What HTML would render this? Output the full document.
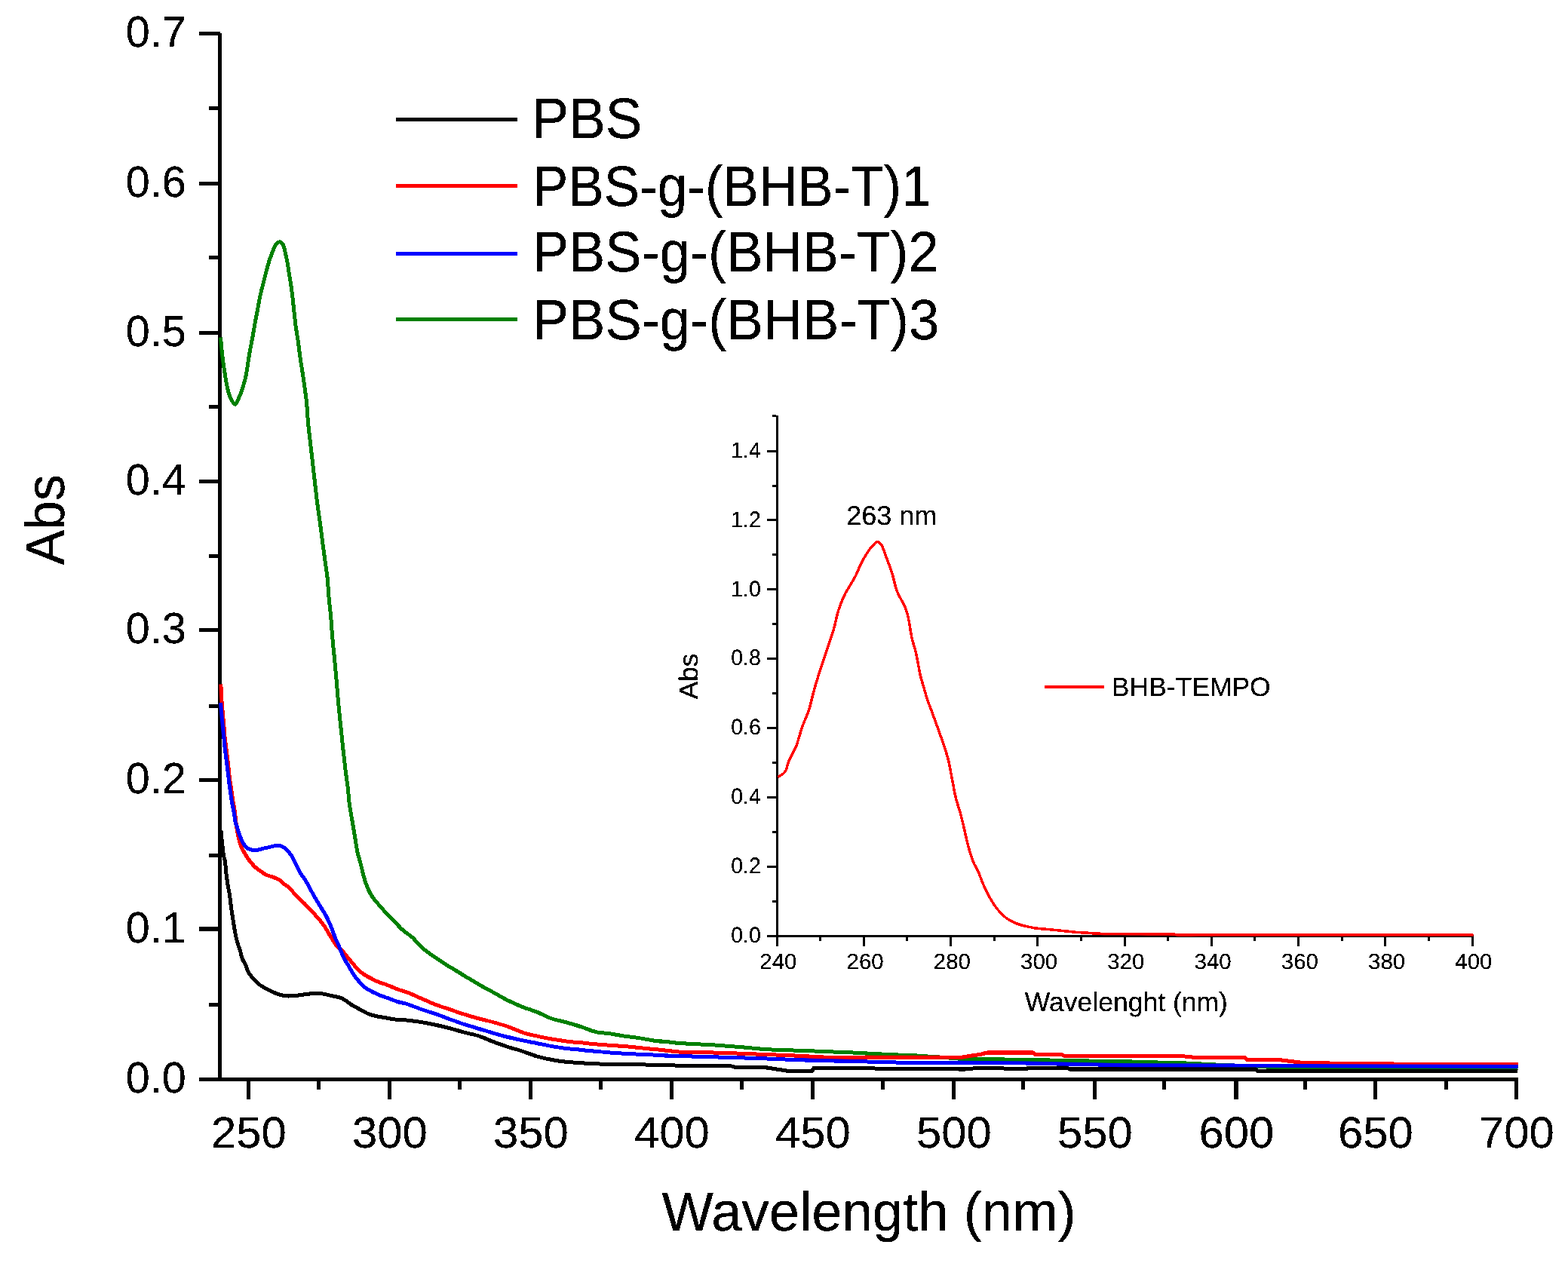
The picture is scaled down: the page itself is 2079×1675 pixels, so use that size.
<!DOCTYPE html>
<html><head><meta charset="utf-8"><title>UV-Vis spectra</title>
<style>html,body{margin:0;padding:0;background:#fff;}body{width:2079px;height:1675px;overflow:hidden;}svg{display:block;}text{font-family:"Liberation Sans", Arial, sans-serif;fill:#000;text-rendering:geometricPrecision;}</style></head><body>
<svg width="2079" height="1675" viewBox="0 0 2079 1675">
<rect width="2079" height="1675" fill="#fff"/>
<defs><filter id="al" filterUnits="userSpaceOnUse" x="0" y="0" width="2079" height="1675" color-interpolation-filters="sRGB"><feComponentTransfer><feFuncA type="discrete" tableValues="0 0 0 0 0 0 0 0 0 0 1 1 1 1 1 1 1 1 1 1"/></feComponentTransfer></filter><filter id="alt" filterUnits="userSpaceOnUse" x="0" y="0" width="2079" height="1675" color-interpolation-filters="sRGB"><feComponentTransfer><feFuncA type="discrete" tableValues="0 0 0 0 0 0 0 1 1 1 1 1 1 1 1 1 1 1 1 1"/></feComponentTransfer></filter></defs>
<g filter="url(#al)">
<path d="M289 44H294V1434H289Z M264 1429H2013V1434H264Z M264 42H292V47H264Z M264 241H289V246H264Z M264 439H289V444H264Z M264 636H289V641H264Z M264 833H289V838H264Z M264 1032H289V1037H264Z M264 1229H289V1235H264Z M264 1429H289V1434H264Z M277 1330H289V1335H277Z M277 1132H289V1137H277Z M277 934H289V939H277Z M277 735H289V740H277Z M277 537H289V542H277Z M277 339H289V344H277Z M277 141H289V146H277Z M327 1434H332V1458H327Z M514 1434H519V1458H514Z M701 1434H706V1458H701Z M888 1434H893V1458H888Z M1075 1434H1080V1458H1075Z M1262 1434H1267V1458H1262Z M1449 1434H1454V1458H1449Z M1636 1434H1642V1458H1636Z M1821 1434H1826V1458H1821Z M2008 1434H2013V1458H2008Z M420 1434H425V1445H420Z M607 1434H612V1445H607Z M794 1434H799V1445H794Z M981 1434H986V1445H981Z M1168 1434H1173V1445H1168Z M1354 1434H1359V1445H1354Z M1541 1434H1546V1445H1541Z M1728 1434H1733V1445H1728Z M1915 1434H1920V1445H1915Z" fill="#000"/>
<path d="M292.60 447.50 C293.17 454.17 293.56 460.72 294.30 467.50 C295.07 474.55 296.13 481.84 297.20 489.00 C298.27 496.17 299.27 503.93 300.70 510.50 C301.94 516.18 302.98 521.67 305.00 526.20 C306.73 530.09 309.40 536.37 311.50 536.30 C313.70 536.23 316.05 528.93 317.90 524.80 C319.89 520.37 321.46 515.30 322.90 510.50 C324.32 505.77 325.53 501.00 326.50 496.20 C327.46 491.43 327.91 486.80 328.70 481.80 C329.56 476.34 330.46 470.52 331.50 464.70 C332.59 458.60 334.00 452.10 335.10 446.00 C336.15 440.18 336.95 434.72 338.00 428.90 C339.10 422.80 340.41 416.43 341.60 410.20 C342.78 403.99 343.77 397.66 345.10 391.60 C346.38 385.74 347.96 380.12 349.40 374.40 C350.83 368.69 352.20 362.74 353.70 357.30 C355.08 352.28 356.48 347.39 358.00 342.90 C359.37 338.85 360.77 335.00 362.30 331.50 C363.66 328.39 364.82 324.69 366.60 322.90 C367.86 321.63 369.52 320.54 370.90 320.70 C372.39 320.87 374.07 322.57 375.20 324.30 C376.74 326.65 377.20 330.74 378.10 334.30 C379.12 338.31 380.08 342.77 380.90 347.20 C381.76 351.86 382.31 356.60 383.10 361.60 C383.96 367.06 385.07 372.98 385.90 378.70 C386.73 384.42 387.41 389.94 388.10 395.90 C388.85 402.34 389.47 409.43 390.20 416.00 C390.90 422.32 391.55 428.41 392.40 434.60 C393.25 440.81 394.38 446.77 395.30 453.20 C396.29 460.10 397.11 467.79 398.10 474.70 C399.02 481.16 400.05 487.06 401.00 493.40 C401.98 499.95 402.98 506.73 403.90 513.40 C404.82 520.06 405.76 526.16 406.50 533.40 C407.38 541.96 407.74 552.34 408.60 561.50 C409.42 570.29 410.54 578.83 411.50 587.30 C412.44 595.52 413.36 603.38 414.30 611.60 C415.26 620.07 416.24 628.93 417.20 637.40 C418.14 645.62 419.02 653.85 420.00 661.70 C420.92 669.09 421.93 676.03 422.90 683.20 C423.87 690.37 424.85 697.53 425.80 704.70 C426.75 711.87 427.65 719.04 428.60 726.20 C429.55 733.34 430.53 740.46 431.50 747.60 C432.47 754.76 433.70 762.10 434.40 769.10 C435.07 775.75 435.10 781.48 435.70 788.60 C436.43 797.25 437.75 807.74 438.60 817.30 C439.45 826.84 439.97 836.36 440.80 845.90 C441.63 855.46 442.70 865.04 443.60 874.60 C444.50 884.14 445.37 893.67 446.20 903.20 C447.03 912.73 447.72 922.26 448.60 931.80 C449.48 941.36 450.53 950.94 451.50 960.50 C452.47 970.04 453.51 980.85 454.40 989.10 C455.08 995.40 455.67 1000.20 456.30 1005.75 C456.93 1011.30 457.46 1016.44 458.20 1022.40 C459.06 1029.32 460.33 1037.33 461.20 1044.80 C462.07 1052.26 462.40 1059.75 463.40 1067.20 C464.40 1074.68 465.95 1082.14 467.20 1089.60 C468.45 1097.04 469.73 1104.86 470.90 1111.90 C471.95 1118.22 472.62 1124.07 473.90 1129.90 C475.14 1135.53 476.94 1140.70 478.40 1146.30 C479.92 1152.13 481.10 1158.55 482.80 1164.20 C484.37 1169.44 486.00 1174.50 488.10 1179.10 C490.05 1183.38 492.21 1187.27 494.80 1191.00 C497.40 1194.74 500.59 1197.91 503.70 1201.50 C507.04 1205.36 510.65 1209.61 514.20 1213.40 C517.62 1217.06 521.12 1220.42 524.60 1223.90 C528.08 1227.38 531.38 1231.07 535.10 1234.30 C538.84 1237.54 543.21 1239.86 547.00 1243.30 C551.04 1246.97 553.96 1251.69 558.50 1255.80 C563.90 1260.68 571.21 1265.67 577.70 1270.20 C584.05 1274.63 590.54 1278.66 597.00 1282.70 C603.38 1286.69 609.80 1290.45 616.20 1294.30 C622.60 1298.15 628.96 1302.10 635.40 1305.80 C641.79 1309.47 648.28 1312.86 654.70 1316.40 C661.11 1319.93 667.42 1323.78 673.90 1327.00 C680.26 1330.16 686.72 1333.01 693.20 1335.60 C699.56 1338.14 706.05 1339.86 712.40 1342.40 C718.85 1344.98 725.09 1348.75 731.60 1351.00 C737.93 1353.19 744.50 1354.04 750.90 1355.80 C757.33 1357.57 763.72 1359.51 770.10 1361.60 C776.55 1363.71 782.89 1366.87 789.40 1368.40 C795.73 1369.89 802.21 1369.85 808.60 1370.80 C815.01 1371.75 821.38 1373.13 827.80 1374.10 C834.22 1375.07 840.68 1375.63 847.10 1376.60 C853.52 1377.57 859.88 1379.03 866.30 1379.90 C872.71 1380.77 879.64 1381.15 885.60 1381.80 C890.75 1382.36 895.20 1382.93 900.00 1383.50 L948.10 1386.00 L986.60 1388.90 L1015.40 1391.70 L1073.20 1393.70 L1130.90 1396.00 L1179.00 1398.50 L1215.50 1400.00 L1280.00 1404.60 L1357.00 1405.20 L1414.70 1406.60 L1501.30 1408.10 L1568.60 1409.80 L1640.00 1413.50 L1720.50 1416.30 L2012.50 1416.60" stroke="#008000" stroke-width="5.0" fill="none" stroke-linejoin="round"/>
<path d="M292.90 907.50 C293.13 913.33 293.23 919.01 293.60 925.00 C293.99 931.33 294.65 938.18 295.20 944.50 C295.72 950.49 296.29 956.12 296.80 962.00 C297.32 967.96 297.68 974.28 298.30 980.00 C298.87 985.24 299.65 989.77 300.30 995.00 C301.02 1000.72 301.71 1006.92 302.40 1013.00 C303.11 1019.25 303.69 1025.76 304.50 1032.00 C305.29 1038.09 306.37 1044.27 307.20 1050.00 C307.96 1055.23 308.54 1060.40 309.30 1065.00 C309.95 1068.96 310.85 1072.24 311.40 1076.00 C311.97 1079.90 312.05 1083.50 312.60 1088.00 C313.31 1093.83 314.41 1102.67 315.50 1108.00 C316.24 1111.62 316.99 1114.07 317.90 1117.00 C318.79 1119.87 319.67 1122.77 320.90 1125.40 C322.09 1127.93 323.75 1130.23 325.10 1132.50 C326.34 1134.59 327.35 1136.54 328.70 1138.50 C330.11 1140.54 331.79 1142.58 333.40 1144.50 C334.96 1146.37 336.34 1148.20 338.20 1149.90 C340.27 1151.79 342.99 1153.50 345.40 1155.20 C347.76 1156.86 350.04 1158.79 352.50 1160.00 C354.82 1161.14 357.26 1161.53 359.70 1162.40 C362.26 1163.32 365.29 1164.34 367.50 1165.40 C369.24 1166.23 370.50 1166.91 372.00 1168.00 C373.74 1169.27 375.34 1171.21 377.20 1172.70 C379.13 1174.25 381.43 1175.32 383.40 1177.10 C385.62 1179.10 387.49 1181.94 389.70 1184.30 C391.98 1186.74 394.51 1189.11 396.90 1191.50 C399.27 1193.87 401.63 1196.23 404.00 1198.60 C406.39 1200.99 408.84 1203.30 411.20 1205.80 C413.61 1208.36 416.01 1211.20 418.30 1213.80 C420.47 1216.26 422.62 1218.56 424.60 1221.00 C426.52 1223.36 428.26 1225.63 430.00 1228.20 C431.87 1230.97 433.57 1234.09 435.40 1237.10 C437.30 1240.22 439.41 1243.74 441.20 1246.60 C442.70 1248.98 443.55 1250.87 445.40 1253.10 C447.81 1256.00 452.11 1259.06 454.90 1262.10 C457.41 1264.84 459.28 1267.69 461.50 1270.40 C463.68 1273.06 465.81 1275.51 468.10 1278.20 C470.56 1281.10 472.96 1284.59 475.80 1287.20 C478.55 1289.73 481.74 1291.78 484.80 1293.70 C487.72 1295.53 490.70 1296.99 493.70 1298.50 C496.67 1299.99 499.67 1301.49 502.70 1302.70 C505.64 1303.88 508.64 1304.61 511.60 1305.70 C514.61 1306.81 517.60 1308.12 520.60 1309.30 C523.60 1310.48 526.53 1311.73 529.60 1312.80 C532.73 1313.90 535.49 1314.43 539.20 1315.80 C544.56 1317.79 552.08 1321.33 558.50 1324.10 C564.91 1326.86 571.24 1329.92 577.70 1332.40 C584.07 1334.85 590.57 1336.75 597.00 1338.90 C603.41 1341.05 609.78 1343.28 616.20 1345.30 C622.58 1347.31 628.97 1349.25 635.40 1351.00 C641.81 1352.75 648.30 1354.04 654.70 1355.80 C661.13 1357.57 667.54 1359.38 673.90 1361.60 C680.37 1363.86 686.70 1367.20 693.20 1369.30 C699.54 1371.35 705.98 1372.65 712.40 1374.10 C718.78 1375.55 725.18 1376.87 731.60 1378.00 C738.01 1379.13 744.46 1380.10 750.90 1380.90 C757.30 1381.70 763.69 1382.17 770.10 1382.80 C776.52 1383.43 782.97 1384.13 789.40 1384.70 C795.81 1385.27 802.20 1385.72 808.60 1386.20 C815.00 1386.68 821.40 1387.05 827.80 1387.60 C834.23 1388.15 840.68 1388.87 847.10 1389.50 C853.51 1390.13 859.89 1390.75 866.30 1391.40 C872.73 1392.05 879.64 1392.76 885.60 1393.40 C890.75 1393.95 895.20 1394.47 900.00 1395.00 L957.70 1396.20 L1015.40 1398.50 L1053.90 1400.00 L1092.40 1401.90 L1188.60 1402.30 L1275.20 1402.30 L1285.00 1400.50 L1299.20 1398.50 L1308.90 1396.00 L1370.40 1396.00 L1372.40 1398.50 L1407.00 1398.50 L1410.80 1400.20 L1568.60 1400.80 L1587.80 1402.70 L1651.30 1402.70 L1653.30 1405.20 L1695.60 1405.60 L1713.40 1407.70 L1727.60 1409.50 L1816.60 1410.60 L1862.90 1411.30 L2012.50 1411.30" stroke="#f00" stroke-width="5.0" fill="none" stroke-linejoin="round"/>
<path d="M292.50 932.00 C293.17 939.67 293.81 947.60 294.50 955.00 C295.15 961.90 295.83 968.33 296.50 975.00 C297.17 981.67 297.79 988.71 298.50 995.00 C299.13 1000.63 299.83 1005.59 300.50 1011.00 C301.19 1016.58 301.90 1022.33 302.60 1028.00 C303.30 1033.67 303.91 1039.26 304.70 1045.00 C305.51 1050.92 306.47 1057.55 307.40 1063.00 C308.18 1067.55 309.13 1071.73 309.80 1075.50 C310.35 1078.60 310.77 1081.30 311.20 1084.00 C311.59 1086.45 311.75 1088.81 312.30 1091.00 C312.81 1093.02 313.65 1094.68 314.30 1096.70 C315.02 1098.95 315.58 1101.48 316.40 1103.90 C317.26 1106.44 318.34 1109.09 319.40 1111.60 C320.44 1114.06 321.39 1116.64 322.70 1118.80 C323.92 1120.81 325.19 1122.84 326.90 1124.20 C328.57 1125.52 330.78 1126.35 332.80 1126.90 C334.75 1127.43 336.61 1127.61 338.80 1127.50 C341.51 1127.37 344.81 1126.35 347.80 1125.70 C350.78 1125.05 353.51 1124.30 356.70 1123.60 C360.40 1122.79 365.08 1120.92 368.70 1121.20 C371.81 1121.44 374.74 1122.72 377.20 1124.30 C379.63 1125.86 381.50 1128.28 383.40 1130.60 C385.38 1133.03 387.19 1135.72 388.80 1138.60 C390.51 1141.66 391.68 1145.24 393.30 1148.50 C394.94 1151.80 396.66 1155.16 398.60 1158.30 C400.53 1161.42 402.96 1164.18 404.90 1167.30 C406.86 1170.45 408.50 1173.82 410.30 1177.10 C412.10 1180.39 413.88 1183.80 415.70 1187.00 C417.45 1190.06 419.22 1192.93 421.00 1195.90 C422.79 1198.89 424.60 1201.91 426.40 1204.90 C428.20 1207.88 430.15 1210.79 431.80 1213.80 C433.41 1216.76 434.77 1219.65 436.20 1222.80 C437.74 1226.19 439.31 1229.93 440.70 1233.50 C442.07 1237.00 443.19 1240.92 444.50 1244.00 C445.57 1246.52 446.69 1248.21 447.80 1250.70 C449.15 1253.72 450.51 1257.51 451.90 1260.90 C453.28 1264.28 454.52 1267.91 456.10 1271.00 C457.55 1273.83 459.32 1276.14 460.90 1278.80 C462.52 1281.54 464.02 1284.43 465.70 1287.20 C467.39 1290.00 469.09 1292.89 471.00 1295.50 C472.86 1298.05 474.90 1300.40 477.00 1302.70 C479.10 1305.00 481.19 1307.41 483.60 1309.30 C485.97 1311.16 488.65 1312.53 491.30 1314.00 C494.01 1315.50 496.82 1316.91 499.70 1318.20 C502.62 1319.51 505.69 1320.69 508.70 1321.80 C511.66 1322.89 514.64 1323.71 517.60 1324.80 C520.61 1325.91 523.30 1327.37 526.60 1328.40 C530.41 1329.59 534.60 1329.92 539.20 1331.30 C545.00 1333.04 552.05 1336.26 558.50 1338.50 C564.88 1340.72 571.32 1342.46 577.70 1344.70 C584.15 1346.96 590.56 1349.66 597.00 1352.00 C603.39 1354.32 609.78 1356.61 616.20 1358.70 C622.58 1360.78 628.99 1362.57 635.40 1364.50 C641.82 1366.44 648.26 1368.46 654.70 1370.30 C661.10 1372.13 667.48 1373.90 673.90 1375.50 C680.31 1377.10 686.77 1378.53 693.20 1379.90 C699.60 1381.26 706.00 1382.42 712.40 1383.70 C718.80 1384.98 725.18 1386.47 731.60 1387.60 C738.01 1388.73 744.46 1389.70 750.90 1390.50 C757.30 1391.30 763.69 1391.77 770.10 1392.40 C776.52 1393.03 782.97 1393.72 789.40 1394.30 C795.81 1394.88 802.20 1395.42 808.60 1395.90 C815.00 1396.38 821.39 1396.82 827.80 1397.20 C834.22 1397.58 840.67 1397.88 847.10 1398.20 C853.51 1398.52 859.89 1398.78 866.30 1399.10 C872.73 1399.42 879.64 1399.88 885.60 1400.10 C890.75 1400.29 895.20 1400.30 900.00 1400.40 L996.20 1403.30 L1073.20 1406.20 L1150.10 1408.10 L1188.60 1409.10 L1300.00 1409.40 L1360.80 1410.00 L1491.60 1412.70 L1680.00 1413.30 L2012.50 1414.50" stroke="#00f" stroke-width="5.0" fill="none" stroke-linejoin="round"/>
<path d="M292.90 1101.00 C293.13 1104.00 293.30 1106.92 293.60 1110.00 C293.92 1113.25 294.43 1116.66 294.80 1120.00 C295.17 1123.33 295.37 1126.86 295.80 1130.00 C296.19 1132.82 296.68 1135.80 297.20 1138.00 C297.57 1139.58 298.07 1140.27 298.40 1142.00 C298.98 1145.01 299.10 1150.76 299.50 1154.60 C299.84 1157.85 300.18 1160.39 300.60 1163.60 C301.09 1167.29 301.66 1171.84 302.30 1175.50 C302.85 1178.66 303.52 1180.79 304.10 1184.30 C304.95 1189.44 305.62 1197.04 306.50 1203.40 C307.38 1209.77 308.46 1216.59 309.40 1222.50 C310.22 1227.64 310.85 1232.12 311.80 1236.90 C312.75 1241.69 313.87 1246.95 315.10 1251.20 C316.11 1254.72 317.45 1257.50 318.40 1260.70 C319.34 1263.87 319.64 1267.17 320.80 1270.30 C322.01 1273.54 324.16 1276.59 325.60 1279.80 C327.02 1282.96 327.69 1286.40 329.40 1289.40 C331.16 1292.48 333.69 1295.30 336.10 1298.00 C338.50 1300.69 340.96 1303.38 343.80 1305.60 C346.68 1307.85 350.08 1309.64 353.30 1311.40 C356.45 1313.13 359.67 1314.74 362.90 1316.10 C366.04 1317.42 369.18 1318.70 372.40 1319.50 C375.55 1320.29 378.49 1320.76 382.00 1320.90 C386.22 1321.07 391.31 1320.49 396.00 1320.00 C400.78 1319.50 405.33 1318.27 410.40 1317.90 C416.03 1317.49 423.00 1317.25 428.30 1317.90 C432.65 1318.43 436.34 1320.02 440.00 1320.80 C443.18 1321.48 446.07 1321.47 449.00 1322.40 C452.04 1323.37 455.00 1324.89 457.90 1326.60 C460.98 1328.42 463.84 1331.18 466.90 1333.10 C469.82 1334.93 472.43 1336.13 475.80 1337.90 C480.18 1340.21 485.59 1343.81 491.00 1345.70 C496.60 1347.66 503.64 1348.27 508.90 1349.30 C513.04 1350.11 515.78 1350.83 520.00 1351.40 C525.51 1352.15 532.80 1352.32 539.20 1353.00 C545.63 1353.68 552.09 1354.45 558.50 1355.50 C564.93 1356.55 571.31 1357.91 577.70 1359.30 C584.14 1360.70 590.59 1362.24 597.00 1363.90 C603.43 1365.57 609.79 1367.60 616.20 1369.30 C622.59 1371.00 629.06 1372.05 635.40 1374.10 C641.90 1376.20 648.25 1379.37 654.70 1381.80 C661.08 1384.20 667.46 1386.51 673.90 1388.60 C680.30 1390.68 686.80 1392.22 693.20 1394.30 C699.64 1396.39 705.95 1399.22 712.40 1401.10 C718.75 1402.94 725.17 1404.32 731.60 1405.50 C738.00 1406.68 744.46 1407.50 750.90 1408.20 C757.30 1408.90 763.69 1409.28 770.10 1409.70 C776.52 1410.12 782.97 1410.43 789.40 1410.70 C795.81 1410.97 802.20 1411.20 808.60 1411.30 C815.00 1411.40 821.39 1411.25 827.80 1411.30 C834.23 1411.35 840.68 1411.38 847.10 1411.60 C853.51 1411.82 859.89 1412.43 866.30 1412.60 C872.72 1412.77 879.64 1412.46 885.60 1412.60 C890.75 1412.73 895.20 1413.07 900.00 1413.30 L967.30 1413.30 L977.00 1415.80 L1015.40 1415.80 L1034.70 1418.70 L1044.30 1420.20 L1077.00 1420.20 L1078.90 1416.20 L1130.90 1416.20 L1188.60 1417.70 L1280.00 1418.10 L1295.00 1416.50 L1308.90 1416.20 L1360.80 1418.10 L1362.70 1416.20 L1414.70 1416.20 L1418.50 1418.10 L1664.80 1418.10 L1667.00 1420.20 L2012.50 1420.40" stroke="#000" stroke-width="5.0" fill="none" stroke-linejoin="round"/>
<path d="M525 158.4 H686" stroke="#000" stroke-width="5"/>
<path d="M525 246.5 H686" stroke="#f00" stroke-width="5"/>
<path d="M525 336.5 H686" stroke="#00f" stroke-width="5"/>
<path d="M525 423.4 H686" stroke="#008000" stroke-width="5"/>
<path d="M1029 551H1032V1255H1029Z M1017 1240H1954V1243H1017Z M1024 1194H1029V1197H1024Z M1017 1148H1029V1151H1017Z M1024 1102H1029V1105H1024Z M1017 1056H1029V1059H1017Z M1024 1010H1029V1013H1024Z M1017 964H1029V967H1017Z M1024 918H1029V921H1024Z M1017 872H1029V875H1017Z M1024 826H1029V829H1024Z M1017 780H1029V783H1017Z M1024 734H1029V737H1024Z M1017 688H1029V691H1017Z M1024 643H1029V646H1024Z M1017 597H1029V600H1017Z M1024 550H1029V553H1024Z M1086 1243H1089V1248H1086Z M1144 1243H1147V1255H1144Z M1201 1243H1204V1248H1201Z M1259 1243H1262V1255H1259Z M1317 1243H1320V1248H1317Z M1374 1243H1377V1255H1374Z M1432 1243H1435V1248H1432Z M1490 1243H1493V1255H1490Z M1547 1243H1550V1248H1547Z M1605 1243H1608V1255H1605Z M1662 1243H1665V1248H1662Z M1720 1243H1723V1255H1720Z M1778 1243H1781V1248H1778Z M1835 1243H1838V1255H1835Z M1893 1243H1896V1248H1893Z M1951 1243H1954V1255H1951Z" fill="#000"/>
<path d="M1031.50 1030.70 C1034.60 1028.40 1038.44 1027.00 1040.80 1023.80 C1043.54 1020.08 1044.11 1013.43 1046.00 1009.00 C1047.62 1005.20 1049.56 1001.99 1051.20 998.70 C1052.71 995.68 1053.99 993.76 1055.50 990.00 C1058.07 983.62 1060.95 971.68 1063.90 963.40 C1066.55 955.96 1070.04 949.03 1072.20 942.50 C1074.04 936.95 1075.00 932.03 1076.40 926.80 C1077.80 921.57 1078.90 917.03 1080.60 911.10 C1082.84 903.27 1086.07 892.84 1088.90 884.00 C1091.64 875.45 1094.52 867.27 1097.30 858.90 C1100.08 850.54 1103.16 842.20 1105.60 833.80 C1108.01 825.50 1109.34 816.68 1111.90 808.80 C1114.30 801.44 1117.49 793.59 1120.30 787.90 C1122.36 783.71 1124.29 781.19 1126.50 777.40 C1129.10 772.94 1132.42 767.74 1134.90 762.80 C1137.31 758.00 1138.81 753.00 1141.20 748.20 C1143.66 743.27 1146.80 737.73 1149.50 733.60 C1151.64 730.34 1153.49 727.75 1155.80 725.20 C1158.04 722.73 1160.81 718.66 1163.10 718.50 C1164.93 718.37 1166.74 720.14 1168.30 722.10 C1170.85 725.29 1172.41 731.97 1174.60 737.70 C1177.24 744.60 1180.46 752.98 1182.90 760.70 C1185.31 768.32 1186.38 776.35 1189.20 783.70 C1191.99 790.98 1197.16 798.44 1199.70 804.60 C1201.61 809.22 1202.51 812.00 1203.80 817.10 C1205.74 824.77 1207.13 837.75 1209.10 846.40 C1210.70 853.40 1212.88 859.20 1214.30 865.20 C1215.59 870.63 1216.37 875.63 1217.40 880.85 C1218.43 886.07 1219.26 891.40 1220.50 896.50 C1221.71 901.48 1223.30 906.23 1224.70 911.10 C1226.10 915.97 1227.15 920.32 1228.90 925.70 C1231.13 932.53 1234.52 941.03 1237.30 948.70 C1240.08 956.36 1243.03 964.46 1245.60 971.70 C1247.89 978.14 1250.04 983.96 1252.00 990.00 C1253.89 995.83 1255.60 1000.91 1257.20 1007.30 C1259.13 1015.05 1260.67 1024.63 1262.40 1033.30 C1264.13 1041.97 1265.67 1051.55 1267.60 1059.30 C1269.20 1065.69 1271.13 1070.55 1272.80 1076.60 C1274.61 1083.19 1276.30 1090.32 1278.00 1097.40 C1279.77 1104.74 1281.20 1112.44 1283.20 1119.90 C1285.22 1127.44 1287.48 1135.91 1290.10 1142.40 C1292.22 1147.66 1294.88 1151.29 1297.10 1156.20 C1299.54 1161.59 1301.45 1167.78 1304.00 1173.50 C1306.60 1179.34 1309.40 1185.36 1312.60 1190.90 C1315.74 1196.35 1319.29 1202.00 1323.00 1206.50 C1326.28 1210.48 1329.60 1213.90 1333.40 1216.80 C1337.11 1219.64 1341.22 1221.93 1345.50 1223.80 C1349.87 1225.71 1355.06 1226.96 1359.40 1228.10 C1363.15 1229.08 1365.57 1229.68 1370.00 1230.40 C1377.24 1231.57 1389.27 1232.50 1398.90 1233.50 C1408.51 1234.50 1419.21 1235.74 1427.70 1236.40 C1434.41 1236.92 1439.73 1237.07 1445.75 1237.40 C1451.77 1237.73 1457.39 1238.20 1463.80 1238.40 C1471.10 1238.63 1479.43 1238.53 1487.25 1238.60 C1495.07 1238.67 1502.88 1238.73 1510.70 1238.80 C1518.52 1238.87 1526.33 1238.93 1534.15 1239.00 C1541.97 1239.07 1553.55 1238.63 1557.60 1239.20 C1559.05 1239.40 1559.02 1239.80 1560.50 1240.00 C1565.03 1240.61 1579.21 1240.00 1588.57 1240.00 C1597.93 1240.00 1607.29 1240.00 1616.64 1240.00 C1626.00 1240.00 1635.36 1240.00 1644.71 1240.00 C1654.07 1240.00 1663.43 1240.00 1672.79 1240.00 C1682.14 1240.00 1691.50 1240.00 1700.86 1240.00 C1710.21 1240.00 1719.57 1240.00 1728.93 1240.00 C1738.29 1240.00 1747.64 1240.00 1757.00 1240.00 C1766.36 1240.00 1775.71 1240.00 1785.07 1240.00 C1794.43 1240.00 1803.79 1240.00 1813.14 1240.00 C1822.50 1240.00 1831.86 1240.00 1841.21 1240.00 C1850.57 1240.00 1859.93 1240.00 1869.29 1240.00 C1878.64 1240.00 1888.00 1240.00 1897.36 1240.00 C1906.71 1240.00 1916.07 1240.00 1925.43 1240.00 C1934.79 1240.00 1944.14 1240.00 1953.50 1240.00" stroke="#f00" stroke-width="3.5" fill="none" stroke-linejoin="round"/>
<path d="M1385 911 H1464" stroke="#f00" stroke-width="4"/>
</g><g filter="url(#alt)">
<text transform="translate(246.73 1449.10) scale(0.9935 1)" font-size="57.98" text-anchor="end">0.0</text>
<text transform="translate(246.73 1249.60) scale(0.9935 1)" font-size="57.98" text-anchor="end">0.1</text>
<text transform="translate(246.73 1052.10) scale(0.9935 1)" font-size="57.98" text-anchor="end">0.2</text>
<text transform="translate(246.73 853.10) scale(0.9935 1)" font-size="57.98" text-anchor="end">0.3</text>
<text transform="translate(246.73 656.10) scale(0.9935 1)" font-size="57.98" text-anchor="end">0.4</text>
<text transform="translate(246.73 459.10) scale(0.9935 1)" font-size="57.98" text-anchor="end">0.5</text>
<text transform="translate(246.73 261.10) scale(0.9935 1)" font-size="57.98" text-anchor="end">0.6</text>
<text transform="translate(246.73 62.10) scale(0.9935 1)" font-size="57.98" text-anchor="end">0.7</text>
<text transform="translate(329.87 1521.81) scale(1.0252 1)" font-size="58.34" text-anchor="middle">250</text>
<text transform="translate(516.87 1521.81) scale(1.0252 1)" font-size="58.34" text-anchor="middle">300</text>
<text transform="translate(703.87 1521.81) scale(1.0252 1)" font-size="58.34" text-anchor="middle">350</text>
<text transform="translate(890.87 1521.81) scale(1.0252 1)" font-size="58.34" text-anchor="middle">400</text>
<text transform="translate(1077.87 1521.81) scale(1.0252 1)" font-size="58.34" text-anchor="middle">450</text>
<text transform="translate(1264.87 1521.81) scale(1.0252 1)" font-size="58.34" text-anchor="middle">500</text>
<text transform="translate(1451.87 1521.81) scale(1.0252 1)" font-size="58.34" text-anchor="middle">550</text>
<text transform="translate(1639.37 1521.81) scale(1.0252 1)" font-size="58.34" text-anchor="middle">600</text>
<text transform="translate(1823.87 1521.81) scale(1.0252 1)" font-size="58.34" text-anchor="middle">650</text>
<text transform="translate(2010.87 1521.81) scale(1.0252 1)" font-size="58.34" text-anchor="middle">700</text>
<text transform="translate(705.55 182.61) scale(0.9607 1)" font-size="75.91">PBS</text>
<text transform="translate(706.06 273.21) scale(0.9355 1)" font-size="75.90">PBS-g-(BHB-T)1</text>
<text transform="translate(705.77 359.60) scale(0.9538 1)" font-size="75.90">PBS-g-(BHB-T)2</text>
<text transform="translate(705.74 450.00) scale(0.9588 1)" font-size="75.59">PBS-g-(BHB-T)3</text>
<text transform="translate(84.69 689.36) rotate(-90) scale(0.9639 1)" font-size="72.27" text-anchor="middle">Abs</text>
<text transform="translate(1152.13 1632.10) scale(0.9961 1)" font-size="72.75" text-anchor="middle">Wavelength (nm)</text>
<text transform="translate(1008.80 1249.97) scale(0.9627 1)" font-size="29.64" text-anchor="end">0.0</text>
<text transform="translate(1008.80 1158.09) scale(0.9627 1)" font-size="29.64" text-anchor="end">0.2</text>
<text transform="translate(1008.80 1066.21) scale(0.9627 1)" font-size="29.64" text-anchor="end">0.4</text>
<text transform="translate(1008.80 974.33) scale(0.9627 1)" font-size="29.64" text-anchor="end">0.6</text>
<text transform="translate(1008.80 882.45) scale(0.9627 1)" font-size="29.64" text-anchor="end">0.8</text>
<text transform="translate(1008.80 790.57) scale(0.9627 1)" font-size="29.64" text-anchor="end">1.0</text>
<text transform="translate(1008.80 698.69) scale(0.9627 1)" font-size="29.64" text-anchor="end">1.2</text>
<text transform="translate(1008.80 606.81) scale(0.9627 1)" font-size="29.64" text-anchor="end">1.4</text>
<text transform="translate(1031.81 1285.46) scale(1.0168 1)" font-size="28.92" text-anchor="middle">240</text>
<text transform="translate(1147.06 1285.46) scale(1.0168 1)" font-size="28.92" text-anchor="middle">260</text>
<text transform="translate(1262.31 1285.46) scale(1.0168 1)" font-size="28.92" text-anchor="middle">280</text>
<text transform="translate(1377.56 1285.46) scale(1.0168 1)" font-size="28.92" text-anchor="middle">300</text>
<text transform="translate(1492.81 1285.46) scale(1.0168 1)" font-size="28.92" text-anchor="middle">320</text>
<text transform="translate(1608.06 1285.46) scale(1.0168 1)" font-size="28.92" text-anchor="middle">340</text>
<text transform="translate(1723.31 1285.46) scale(1.0168 1)" font-size="28.92" text-anchor="middle">360</text>
<text transform="translate(1838.56 1285.46) scale(1.0168 1)" font-size="28.92" text-anchor="middle">380</text>
<text transform="translate(1953.81 1285.46) scale(1.0168 1)" font-size="28.92" text-anchor="middle">400</text>
<text transform="translate(1122.14 695.75) scale(1.0012 1)" font-size="35.99">263 nm</text>
<text transform="translate(1473.87 923.09) scale(1.0133 1)" font-size="35.00">BHB-TEMPO</text>
<text transform="translate(925.00 896.87) rotate(-90) scale(0.9937 1)" font-size="35.34" text-anchor="middle">Abs</text>
<text transform="translate(1358.80 1340.80) scale(0.9958 1)" font-size="35.69">Wavelenght (nm)</text>
</g>
</svg></body></html>
